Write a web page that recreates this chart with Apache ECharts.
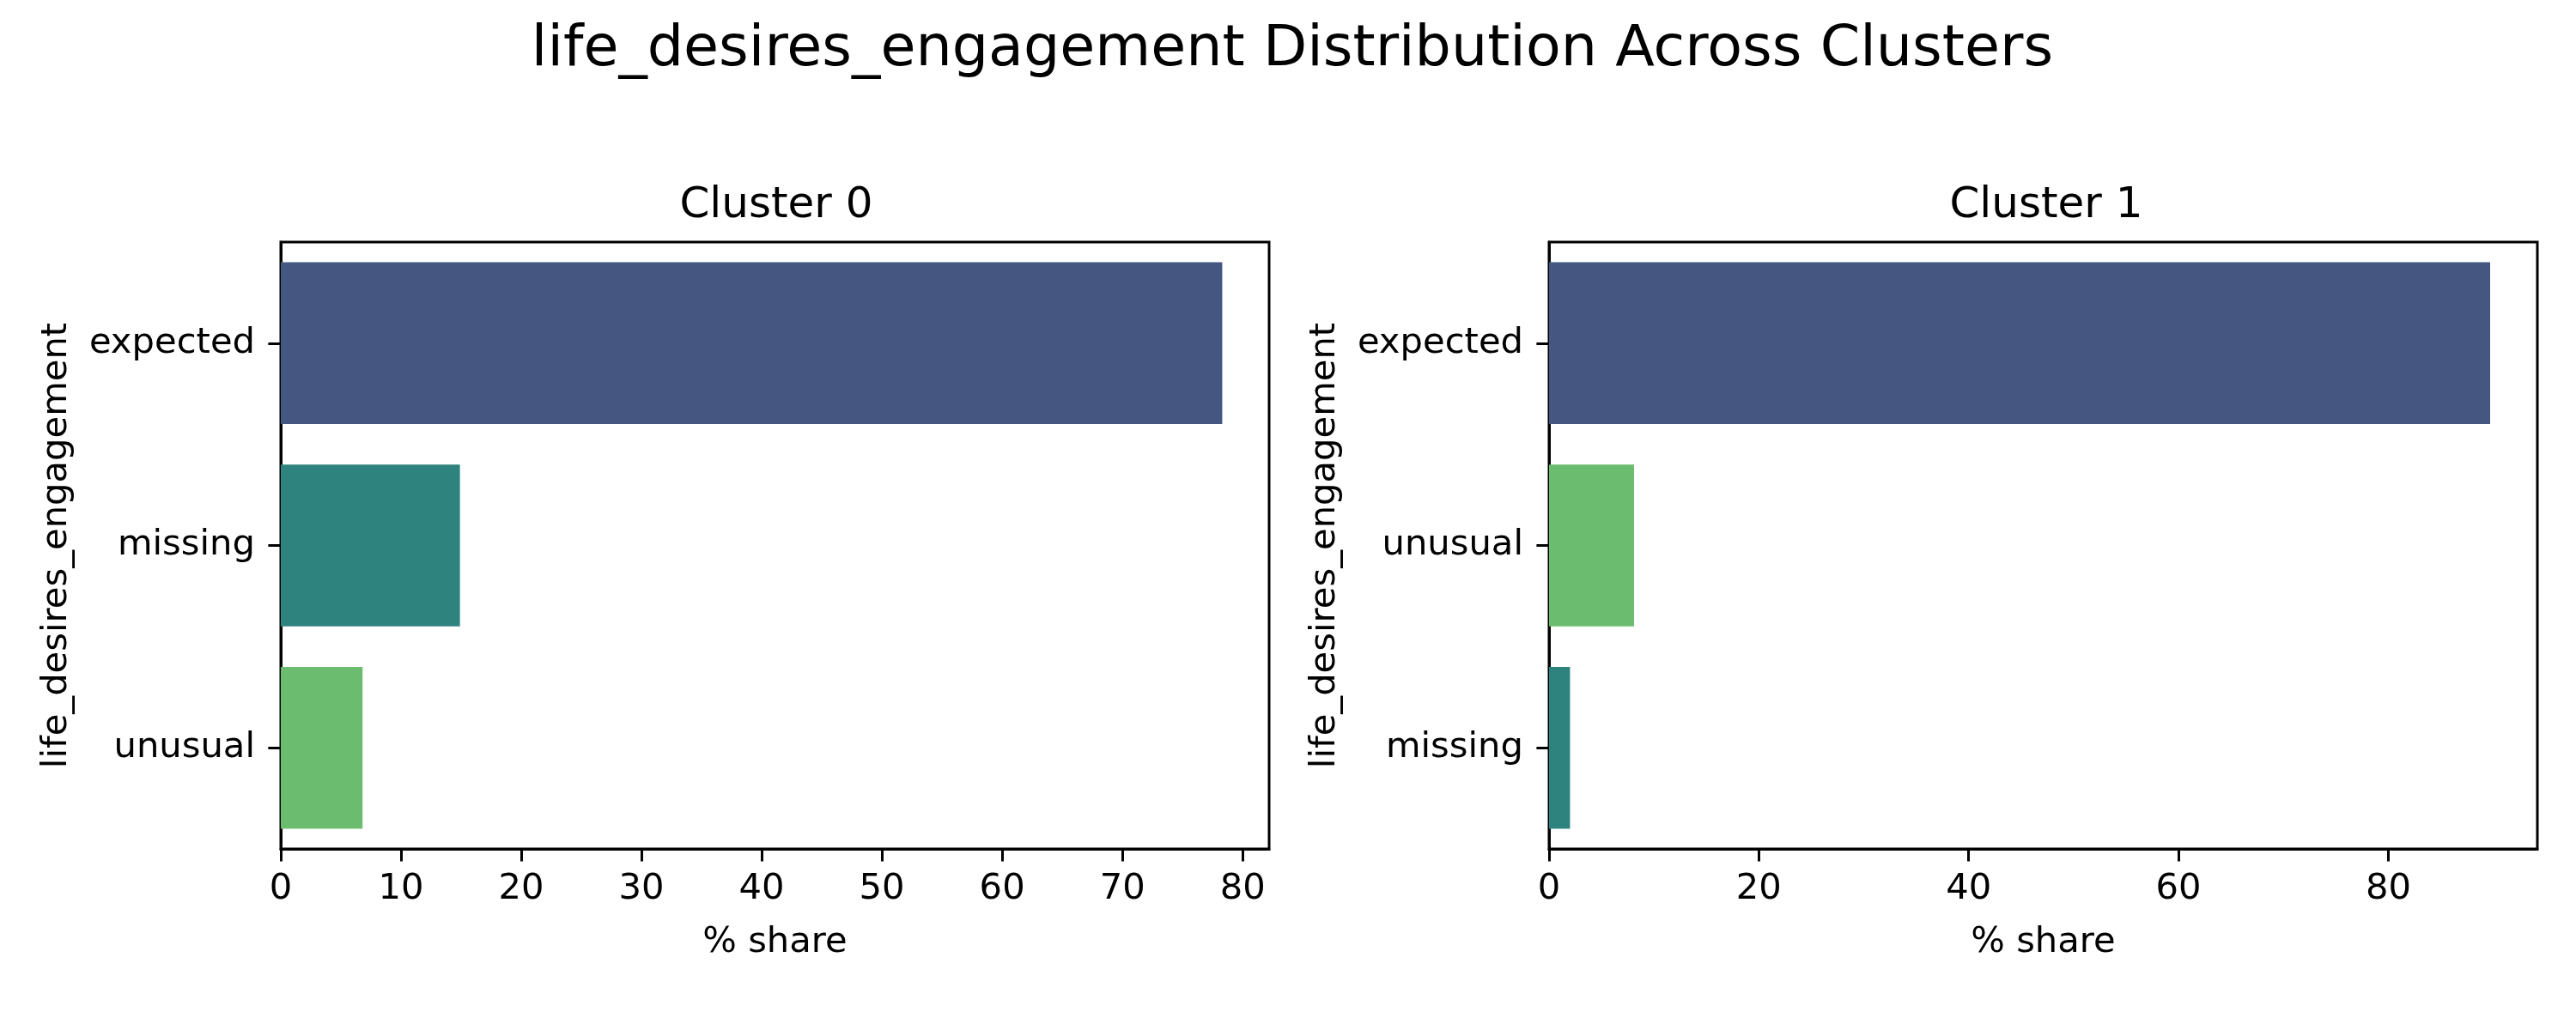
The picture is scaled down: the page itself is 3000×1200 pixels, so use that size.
<!DOCTYPE html>
<html lang="en">
<head>
    <meta charset="UTF-8">
    <title>life_desires_engagement Distribution Across Clusters</title>
    <script src="https://cdn.jsdelivr.net/npm/echarts@6/dist/echarts.min.js"></script>
    <style>
        body { margin: 0; padding: 0; background-color: #fff; }
        #chart { width: 3000px; height: 1200px; }
    </style>
</head>
<body>
<div id="chart"></div>
<script>
    // data
    const cluster0Categories = ["expected", "missing", "unusual"];
    const cluster0Values = [78.3, 14.9, 6.8];
    const cluster1Categories = ["expected", "unusual", "missing"];
    const cluster1Values = [89.7, 8.1, 2.0];
    const cluster0Ticks = [0, 10, 20, 30, 40, 50, 60, 70, 80];
    const cluster1Ticks = [0, 20, 40, 60, 80];
    const cluster0Max = 82.2;
    const cluster1Max = 94.2;

    const colors = { expected: "#455681", missing: "#2f837f", unusual: "#6bbc6e" };
    const font = "DejaVu Sans";

    const chart = echarts.init(document.getElementById("chart"));

    const makeX = (gridIndex, max, ticks, interval) => ({
        type: "value",
        gridIndex: gridIndex,
        min: 0,
        max: max,
        interval: interval,
        name: "% share",
        nameLocation: "middle",
        nameGap: 88,
        nameTextStyle: { fontFamily: font, fontSize: 41.7, color: "#000" },
        axisLine: { show: true, lineStyle: { color: "#000", width: 3 } },
        axisTick: { show: true, length: 14.6, lineStyle: { color: "#000", width: 3 }, customValues: ticks },
        axisLabel: { fontFamily: font, fontSize: 41.7, color: "#000", margin: 26, customValues: ticks },
        splitLine: { show: false }
    });

    const makeY = (gridIndex, cats, gap) => ({
        type: "category",
        gridIndex: gridIndex,
        data: cats,
        inverse: true,
        name: "life_desires_engagement",
        nameLocation: "middle",
        nameRotate: 90,
        nameGap: gap,
        nameTextStyle: { fontFamily: font, fontSize: 41.7, color: "#000" },
        axisLine: { show: true, lineStyle: { color: "#000", width: 3 } },
        axisTick: { show: true, alignWithLabel: true, length: 14.6, lineStyle: { color: "#000", width: 3 } },
        axisLabel: { fontFamily: font, fontSize: 41.7, color: "#000", margin: 30, padding: [8, 0, 0, 0] },
        splitLine: { show: false }
    });

    const makeSeries = (index, cats, values) => ({
        type: "bar",
        xAxisIndex: index,
        yAxisIndex: index,
        barCategoryGap: "20%",
        data: values.map((v, i) => ({ value: v, itemStyle: { color: colors[cats[i]] } }))
    });

    chart.setOption({
        animation: false,
        backgroundColor: "#fff",
        title: [
            {
                text: "life_desires_engagement Distribution Across Clusters",
                left: 1500, top: 20, textAlign: "center",
                textStyle: { fontFamily: font, fontSize: 66.7, fontWeight: "normal", color: "#000" }
            },
            {
                text: "Cluster 0",
                left: 899, top: 210, textAlign: "center",
                textStyle: { fontFamily: font, fontSize: 50, fontWeight: "normal", color: "#000" }
            },
            {
                text: "Cluster 1",
                left: 2378, top: 210, textAlign: "center",
                textStyle: { fontFamily: font, fontSize: 50, fontWeight: "normal", color: "#000" }
            }
        ],
        grid: [
            { left: 327, right: 1522, top: 282, bottom: 211, show: true, borderColor: "#000", borderWidth: 3, backgroundColor: "#fff" },
            { left: 1804, right: 45, top: 282, bottom: 211, show: true, borderColor: "#000", borderWidth: 3, backgroundColor: "#fff" }
        ],
        xAxis: [
            makeX(0, cluster0Max, cluster0Ticks, 10),
            makeX(1, cluster1Max, cluster1Ticks, 20)
        ],
        yAxis: [
            makeY(0, cluster0Categories, 240),
            makeY(1, cluster1Categories, 240)
        ],
        series: [
            makeSeries(0, cluster0Categories, cluster0Values),
            makeSeries(1, cluster1Categories, cluster1Values)
        ]
    });
</script>
</body>
</html>
